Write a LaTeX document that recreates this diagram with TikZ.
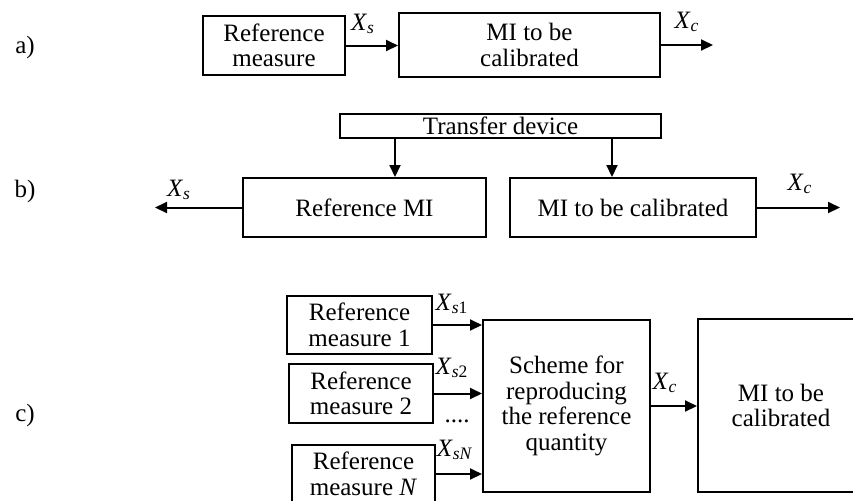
\documentclass[tikz,border=0pt]{standalone}
\usepackage{fontspec}
\setmainfont{Liberation Serif}
\usetikzlibrary{arrows.meta,positioning}
\newcommand{\xsig}[1]{\textit{X}\textsubscript{#1}}

\begin{document}
\begin{tikzpicture}[x=0.5pt, y=-0.5pt, font=\fontsize{12.5}{12.8}\selectfont,
  box/.style={draw, line width=1pt, inner sep=0pt, align=center},
  arr/.style={-{Triangle[length=6pt,width=5.5pt]}, line width=1pt},
  sig/.style={inner sep=0pt}]
  \useasboundingbox (0,0) rectangle (853,500);
  \clip (0,0) rectangle (853,500);

  % a) reference measure straight into the MI
  \node (la) at (25,47) {a)};
  \node[box, minimum width=71pt, minimum height=29.5pt] (refA) at (274,45.5) {Reference\\measure};
  \node[box, minimum width=130.5pt, minimum height=32pt] (miA) at (529.5,45) {MI to be\\calibrated};
  \coordinate (outA) at (713,45);
  \draw[arr] (refA.east) -- (refA.east -| miA.west);
  \draw[arr] (miA.east) -- (outA);
  \node[sig] (xsA) at (363,24) {\xsig{\textit{s}}};
  \node[sig] (xcA) at (687,22) {\xsig{\textit{c}}};

  % b) comparison through a transfer device
  \node (lb) at (25,191) {b)};
  \node[box, minimum width=160.5pt, minimum height=12pt] (trans) at (500.5,126) {Transfer device};
  \node[box, minimum width=121.5pt, minimum height=29.5pt] (refB) at (364.5,207.5) {Reference MI};
  \node[box, minimum width=123pt, minimum height=29.5pt] (miB) at (633,207.5) {MI to be calibrated};
  \coordinate (tapL) at (395,0);
  \coordinate (tapR) at (612,0);
  \coordinate (outBs) at (155,207.5);
  \coordinate (outBc) at (840,207.5);
  \draw[arr] (tapL |- trans.south) -- (tapL |- refB.north);
  \draw[arr] (tapR |- trans.south) -- (tapR |- miB.north);
  \draw[arr] (refB.west) -- (outBs);
  \draw[arr] (miB.east) -- (outBc);
  \node[sig] (xsB) at (179,190) {\xsig{\textit{s}}};
  \node[sig] (xcB) at (800,184) {\xsig{\textit{c}}};

  % c) several measures reproduce the reference quantity
  \node (lc) at (25,415) {c)};
  \node[box, minimum width=72.5pt, minimum height=29pt] (ref1) at (359.5,325) {Reference\\measure 1};
  \node[box, minimum width=72pt, minimum height=29.5pt] (ref2) at (361,393.5) {Reference\\measure 2};
  \node[box, minimum width=71.5pt, minimum height=29pt] (refN) at (363.5,474) {Reference\\measure \textit{N}};
  \node[box, minimum width=83.5pt, minimum height=86pt] (scheme) at (566.5,406) {Scheme for\\reproducing\\the reference\\quantity};
  \node[box, minimum width=83pt, minimum height=86.5pt] (miC) at (781,405.5) {MI to be\\calibrated};
  \draw[arr] (ref1.east) -- (ref1.east -| scheme.west);
  \draw[arr] (ref2.east) -- (ref2.east -| scheme.west);
  \draw[arr] (refN.east) -- (refN.east -| scheme.west);
  \draw[arr] (scheme.east) -- (scheme.east -| miC.west);
  \node[sig] (xs1) at (452,304) {\xsig{\textit{s}1}};
  \node[sig] (xs2) at (452,368) {\xsig{\textit{s}2}};
  \node[sig] (dots) at (457,421) {....};
  \node[sig] (xsN) at (455,450) {\xsig{\textit{sN}}};
  \node[sig] (xcC) at (665,383) {\xsig{\textit{c}}};
\end{tikzpicture}
\end{document}
